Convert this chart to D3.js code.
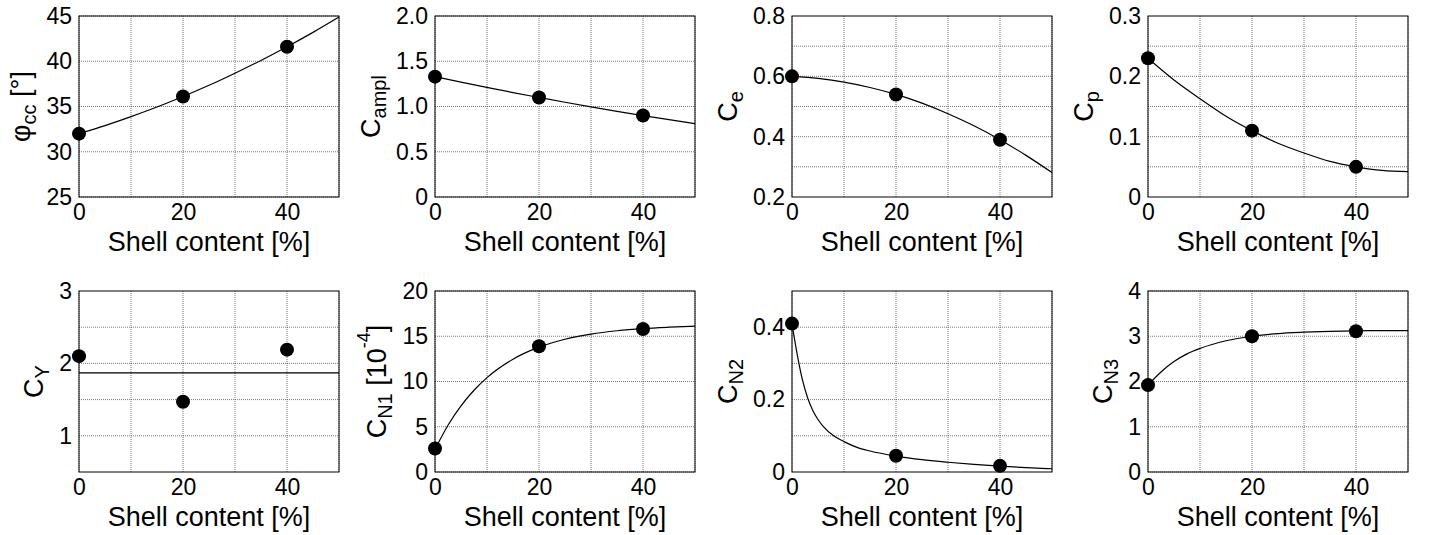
<!DOCTYPE html>
<html>
<head>
<meta charset="utf-8">
<script src="https://cdn.jsdelivr.net/npm/d3@7"></script>
<style>
  body { margin: 0; background: #fff; }
  text { font-family: "Liberation Sans", Arial, Helvetica, sans-serif; fill: #000; }
</style>
</head>
<body>
<div id="chart"></div>
<script>

// 1. Data

const shellContent = [0, 20, 40];
const xGridValues = [0, 10, 20, 30, 40, 50];
const xTickValues = [0, 20, 40];

const phiCC = [32.0, 36.1, 41.6];
const cAmpl = [1.33, 1.10, 0.90];
const cE = [0.60, 0.54, 0.39];
const cP = [0.23, 0.11, 0.05];
const cY = [2.10, 1.47, 2.19];
const cN1 = [2.6, 13.9, 15.8];
const cN2 = [0.41, 0.045, 0.017];
const cN3 = [1.92, 3.00, 3.11];

// fitted curves
const fitStep5 = [0, 5, 10, 15, 20, 25, 30, 35, 40, 45, 50];
const phiCCFit = [32.0, 32.89, 33.88, 34.94, 36.1, 37.34, 38.68, 40.09, 41.6, 43.19, 44.88];
const cAmplFit = [1.33, 1.269, 1.211, 1.154, 1.10, 1.047, 0.996, 0.947, 0.90, 0.855, 0.811];
const cEFit = [0.600, 0.593, 0.581, 0.563, 0.540, 0.511, 0.476, 0.436, 0.390, 0.338, 0.281];
const cPFit = [0.230, 0.194, 0.163, 0.134, 0.110, 0.089, 0.073, 0.059, 0.050, 0.044, 0.042];
const cYFitX = [0, 50];
const cYFit = [1.87, 1.87];
const cN1FitX = [0, 2.5, 5, 7.5, 10, 15, 20, 25, 30, 35, 40, 45, 50];
const cN1Fit = [2.5, 5.16, 7.30, 9.03, 10.43, 12.47, 13.80, 14.67, 15.24, 15.61, 15.85, 16.00, 16.11];
const cN2FitX = [0, 1, 2, 3, 4, 5, 6, 8, 10, 12.5, 15, 20, 25, 30, 35, 40, 45, 50];
const cN2Fit = [0.41, 0.325, 0.255, 0.205, 0.170, 0.145, 0.126, 0.100, 0.084, 0.068, 0.058, 0.044, 0.034, 0.027, 0.021, 0.016, 0.012, 0.009];
const cN3FitX = [0, 2.5, 5, 7.5, 10, 15, 20, 25, 30, 40, 50];
const cN3Fit = [1.92, 2.21, 2.44, 2.61, 2.73, 2.90, 3.00, 3.06, 3.09, 3.12, 3.125];

// y axes
const phiTicks = [25, 30, 35, 40, 45];
const phiTickLabels = ["25", "30", "35", "40", "45"];
const amplTicks = [0, 0.5, 1, 1.5, 2];
const amplTickLabels = ["0", "0.5", "1.0", "1.5", "2.0"];
const eTicks = [0.2, 0.4, 0.6, 0.8];
const eTickLabels = ["0.2", "0.4", "0.6", "0.8"];
const eGrid = [0.3, 0.4, 0.5, 0.6, 0.7];
const pTicks = [0, 0.1, 0.2, 0.3];
const pTickLabels = ["0", "0.1", "0.2", "0.3"];
const pGrid = [0.05, 0.1, 0.15, 0.2, 0.25];
const yTicks = [1, 2, 3];
const yTickLabels = ["1", "2", "3"];
const yGrid = [1, 1.5, 2, 2.5];
const n1Ticks = [0, 5, 10, 15, 20];
const n1TickLabels = ["0", "5", "10", "15", "20"];
const n2Ticks = [0, 0.2, 0.4];
const n2TickLabels = ["0", "0.2", "0.4"];
const n2Grid = [0.1, 0.2, 0.3, 0.4];
const n3Ticks = [0, 1, 2, 3, 4];
const n3TickLabels = ["0", "1", "2", "3", "4"];

const panels = [
    { label: [["φ"], ["cc", "sub"], [" [°]"]], domain: [25, 45], ticks: phiTicks, tickLabels: phiTickLabels, grid: phiTicks, values: phiCC, fitX: fitStep5, fit: phiCCFit },
    { label: [["C"], ["ampl", "sub"]], domain: [0, 2], ticks: amplTicks, tickLabels: amplTickLabels, grid: amplTicks, values: cAmpl, fitX: fitStep5, fit: cAmplFit },
    { label: [["C"], ["e", "sub"]], domain: [0.2, 0.8], ticks: eTicks, tickLabels: eTickLabels, grid: eGrid, values: cE, fitX: fitStep5, fit: cEFit },
    { label: [["C"], ["p", "sub"]], domain: [0, 0.3], ticks: pTicks, tickLabels: pTickLabels, grid: pGrid, values: cP, fitX: fitStep5, fit: cPFit },
    { label: [["C"], ["Y", "sub"]], domain: [0.5, 3], ticks: yTicks, tickLabels: yTickLabels, grid: yGrid, values: cY, fitX: cYFitX, fit: cYFit },
    { label: [["C"], ["N1", "sub"], [" [10"], ["-4", "sup"], ["]"]], domain: [0, 20], ticks: n1Ticks, tickLabels: n1TickLabels, grid: n1Ticks, values: cN1, fitX: cN1FitX, fit: cN1Fit },
    { label: [["C"], ["N2", "sub"]], domain: [0, 0.5], ticks: n2Ticks, tickLabels: n2TickLabels, grid: n2Grid, values: cN2, fitX: cN2FitX, fit: cN2Fit },
    { label: [["C"], ["N3", "sub"]], domain: [0, 4], ticks: n3Ticks, tickLabels: n3TickLabels, grid: n3Ticks, values: cN3, fitX: cN3FitX, fit: cN3Fit },
];

// 2. Dimensions

const dimensions = {
    width: 1429,
    height: 535,
    panelWidth: 260,
    panelHeight: 181,
    columns: [79, 435, 792, 1148],
    rows: [16, 291],
};

// 3. Canvas

const svg = d3.select("#chart")
    .append("svg")
    .attr("width", dimensions.width)
    .attr("height", dimensions.height);

const x = d3.scaleLinear()
    .domain([0, 50])
    .range([0, dimensions.panelWidth]);

const line = d3.line().curve(d3.curveMonotoneX);

// 4. Draw panels

panels.forEach((p, i) => {
    const left = dimensions.columns[i % 4];
    const top = dimensions.rows[Math.floor(i / 4)];
    const w = dimensions.panelWidth;
    const h = dimensions.panelHeight;

    const y = d3.scaleLinear().domain(p.domain).range([h, 0]);

    const g = svg.append("g").attr("transform", `translate(${left},${top})`);

    // grid
    g.append("g")
        .selectAll("line")
        .data(xGridValues)
        .join("line")
        .attr("x1", d => x(d)).attr("x2", d => x(d))
        .attr("y1", 0).attr("y2", h)
        .attr("stroke", "#555")
        .attr("stroke-width", 0.8)
        .attr("stroke-dasharray", "1,1");

    g.append("g")
        .selectAll("line")
        .data(p.grid)
        .join("line")
        .attr("x1", 0).attr("x2", w)
        .attr("y1", d => y(d)).attr("y2", d => y(d))
        .attr("stroke", "#555")
        .attr("stroke-width", 0.8)
        .attr("stroke-dasharray", "1,1");

    // frame
    g.append("rect")
        .attr("width", w)
        .attr("height", h)
        .attr("fill", "none")
        .attr("stroke", "#000")
        .attr("stroke-width", 1);

    // axes
    const yAxis = g.append("g")
        .call(d3.axisLeft(y)
            .tickValues(p.ticks)
            .tickFormat((d, k) => p.tickLabels[k])
            .tickSize(0)
            .tickPadding(7));
    yAxis.select(".domain").remove();
    yAxis.selectAll("text")
        .style("font-size", "23px")
        .style("font-family", "'Liberation Sans', Arial, sans-serif");

    const xAxis = g.append("g")
        .attr("transform", `translate(0,${h})`)
        .call(d3.axisBottom(x)
            .tickValues(xTickValues)
            .tickFormat(d3.format("d"))
            .tickSize(0)
            .tickPadding(7));
    xAxis.select(".domain").remove();
    xAxis.selectAll("text")
        .style("font-size", "23px")
        .style("font-family", "'Liberation Sans', Arial, sans-serif");

    // fit curve
    g.append("path")
        .datum(p.fitX.map((v, k) => [x(v), y(p.fit[k])]))
        .attr("d", line)
        .attr("fill", "none")
        .attr("stroke", "#000")
        .attr("stroke-width", 1.2);

    // data points
    g.selectAll("circle")
        .data(p.values)
        .join("circle")
        .attr("cx", (d, k) => x(shellContent[k]))
        .attr("cy", d => y(d))
        .attr("r", 7)
        .attr("fill", "#000");

    // x label
    g.append("text")
        .attr("x", w / 2)
        .attr("y", h + 54)
        .attr("text-anchor", "middle")
        .style("font-size", "27px")
        .text("Shell content [%]");

    // y label, placed beside the widest tick label
    let maxTick = 0;
    yAxis.selectAll("text").each(function() {
        maxTick = Math.max(maxTick, this.getComputedTextLength());
    });
    const labelX = -(7 + maxTick + 16);

    const yLabel = g.append("text")
        .attr("transform", `translate(${labelX},${h / 2}) rotate(-90)`)
        .attr("text-anchor", "middle")
        .style("font-size", "27px");

    let prev = null;
    p.label.forEach(([str, kind]) => {
        const t = yLabel.append("tspan").text(str);
        if (kind === "sub") {
            t.style("font-size", "20px").attr("dy", 6);
        } else if (kind === "sup") {
            t.style("font-size", "18px").attr("dy", -16);
        } else if (prev === "sub") {
            t.attr("dy", -6);
        } else if (prev === "sup") {
            t.attr("dy", 16);
        }
        prev = kind || null;
    });
});

</script>
</body>
</html>
